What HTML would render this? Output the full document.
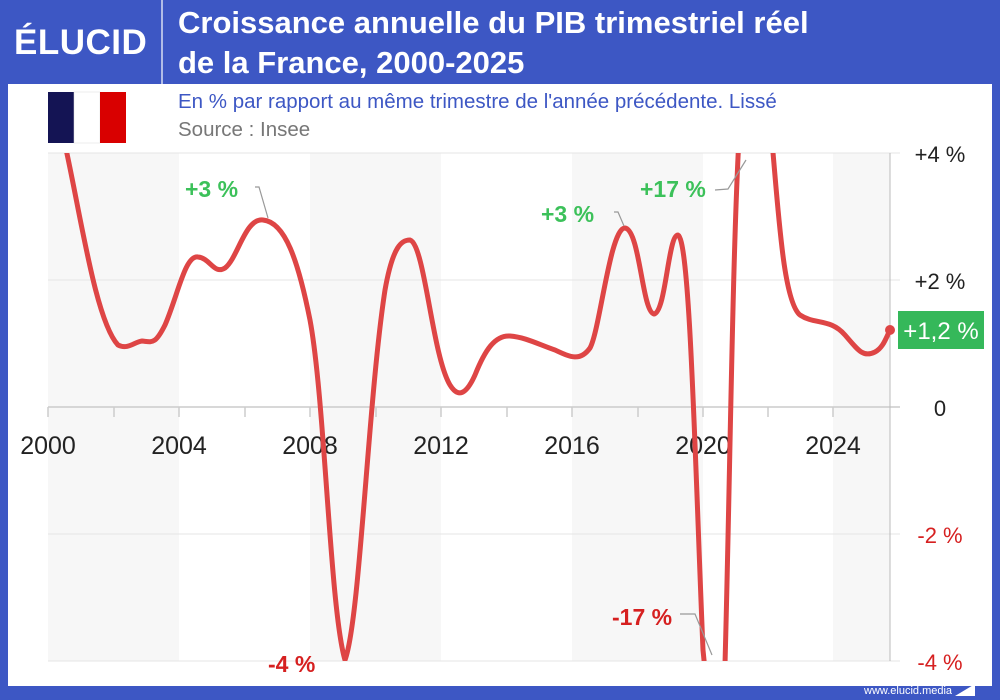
<!DOCTYPE html>
<html><head><meta charset="utf-8"><style>
body{margin:0;width:1000px;height:700px;overflow:hidden;background:#3d57c4;font-family:"Liberation Sans",sans-serif}
</style></head><body>
<svg width="1000" height="700" xmlns="http://www.w3.org/2000/svg" style="position:absolute;left:0;top:0">
<rect x="0" y="0" width="1000" height="700" fill="#3d57c4"/>
<rect x="8" y="84" width="984" height="602" fill="#fff"/>
<line x1="162" y1="0" x2="162" y2="84" stroke="#fff" stroke-width="1.5" opacity="0.8"/>
<text x="14" y="54" fill="#fff" font-size="35" font-weight="bold" letter-spacing="0.5">ÉLUCID</text>
<text x="178" y="33" fill="#fff" font-size="31" font-weight="bold">Croissance annuelle du PIB trimestriel réel</text>
<text x="178" y="73" fill="#fff" font-size="31" font-weight="bold">de la France, 2000-2025</text>
<rect x="48" y="92" width="26" height="51" fill="#141454"/>
<rect x="74" y="92" width="26" height="51" fill="#fff" stroke="#ddd" stroke-width="0.5"/>
<rect x="100" y="92" width="26" height="51" fill="#d90000"/>
<text x="178" y="108" fill="#3d57c4" font-size="20.5">En % par rapport au même trimestre de l'année précédente. Lissé</text>
<text x="178" y="136" fill="#777" font-size="20.5">Source : Insee</text>
<g fill="#f7f7f7">
<rect x="48" y="153" width="131" height="508"/>
<rect x="310" y="153" width="131" height="508"/>
<rect x="572" y="153" width="131" height="508"/>
<rect x="833" y="153" width="57" height="508"/>
</g>
<g stroke="#e4e4e4" stroke-width="1">
<line x1="48" y1="153" x2="900" y2="153"/>
<line x1="48" y1="280" x2="900" y2="280"/>
<line x1="48" y1="534" x2="900" y2="534"/>
<line x1="48" y1="661" x2="900" y2="661"/>
</g>
<line x1="48" y1="407" x2="900" y2="407" stroke="#ccc" stroke-width="1.5"/>
<line x1="890" y1="153" x2="890" y2="661" stroke="#bbb" stroke-width="1"/>
<g stroke="#ccc" stroke-width="1.5">
<line x1="48" y1="407" x2="48" y2="417"/><line x1="114" y1="407" x2="114" y2="417"/>
<line x1="179" y1="407" x2="179" y2="417"/><line x1="245" y1="407" x2="245" y2="417"/>
<line x1="310" y1="407" x2="310" y2="417"/><line x1="376" y1="407" x2="376" y2="417"/>
<line x1="441" y1="407" x2="441" y2="417"/><line x1="507" y1="407" x2="507" y2="417"/>
<line x1="572" y1="407" x2="572" y2="417"/><line x1="638" y1="407" x2="638" y2="417"/>
<line x1="703" y1="407" x2="703" y2="417"/><line x1="768" y1="407" x2="768" y2="417"/>
<line x1="833" y1="407" x2="833" y2="417"/>
</g>
<g font-size="25" fill="#222" text-anchor="middle">
<text x="48" y="454">2000</text><text x="179" y="454">2004</text><text x="310" y="454">2008</text>
<text x="441" y="454">2012</text><text x="572" y="454">2016</text><text x="703" y="454">2020</text><text x="833" y="454">2024</text>
</g>
<g font-size="22" text-anchor="middle">
<text x="940" y="162" fill="#222">+4 %</text>
<text x="940" y="289" fill="#222">+2 %</text>
<text x="940" y="416" fill="#222">0</text>
<text x="940" y="543" fill="#d62020">-2 %</text>
<text x="940" y="670" fill="#d62020">-4 %</text>
</g>
<clipPath id="c"><rect x="40" y="153" width="860" height="508"/></clipPath>
<path clip-path="url(#c)" fill="none" stroke="#de4545" stroke-width="5" stroke-linecap="round" stroke-linejoin="round"
d="M64,140 C80,210 95,320 118,345 C128,350 134,342 142,341 C152,342 155,345 165,325 C178,295 185,255 198,257 C210,258 214,275 225,268 C238,258 245,218 263,220 C285,222 298,260 310,320 C325,400 330,610 345,660 C360,620 368,400 385,290 C393,245 402,240 410,240 C425,245 432,355 450,385 C458,398 466,395 475,375 C485,350 495,335 510,336 C525,337 540,345 555,350 C570,357 580,362 590,348 C600,330 610,228 625,228 C640,230 642,312 654,314 C666,312 668,235 678,235 C690,240 695,460 703,650 L708,700 M724,700 C730,500 732,250 740,120 M770,120 C778,200 782,300 800,315 C815,325 830,318 845,335 C858,350 863,358 875,352 C883,348 886,338 890,330"/>
<circle cx="890" cy="330" r="5" fill="#de4545"/>
<rect x="898" y="311" width="86" height="38" fill="#35b85a"/>
<text x="941" y="339" fill="#fff" font-size="24" text-anchor="middle">+1,2 %</text>
<g font-size="23" font-weight="bold">
<text x="185" y="197" fill="#3cc15a">+3 %</text>
<text x="541" y="222" fill="#3cc15a">+3 %</text>
<text x="640" y="197" fill="#3cc15a">+17 %</text>
<text x="612" y="625" fill="#d62020">-17 %</text>
<text x="268" y="672" fill="#d62020">-4 %</text>
</g>
<g fill="none" stroke="#999" stroke-width="1.2">
<path d="M255,187 L259,187 L268,218"/>
<path d="M614,212 L618,212 L624,226"/>
<path d="M715,190 L728,189 L746,160"/>
<path d="M680,614 L695,614 L712,655"/>
</g>
<text x="864" y="694" fill="#fff" font-size="11">www.elucid.media</text>
<path d="M955,696 L975,684 L975,696 Z" fill="#fff"/>
</svg>
</body></html>
